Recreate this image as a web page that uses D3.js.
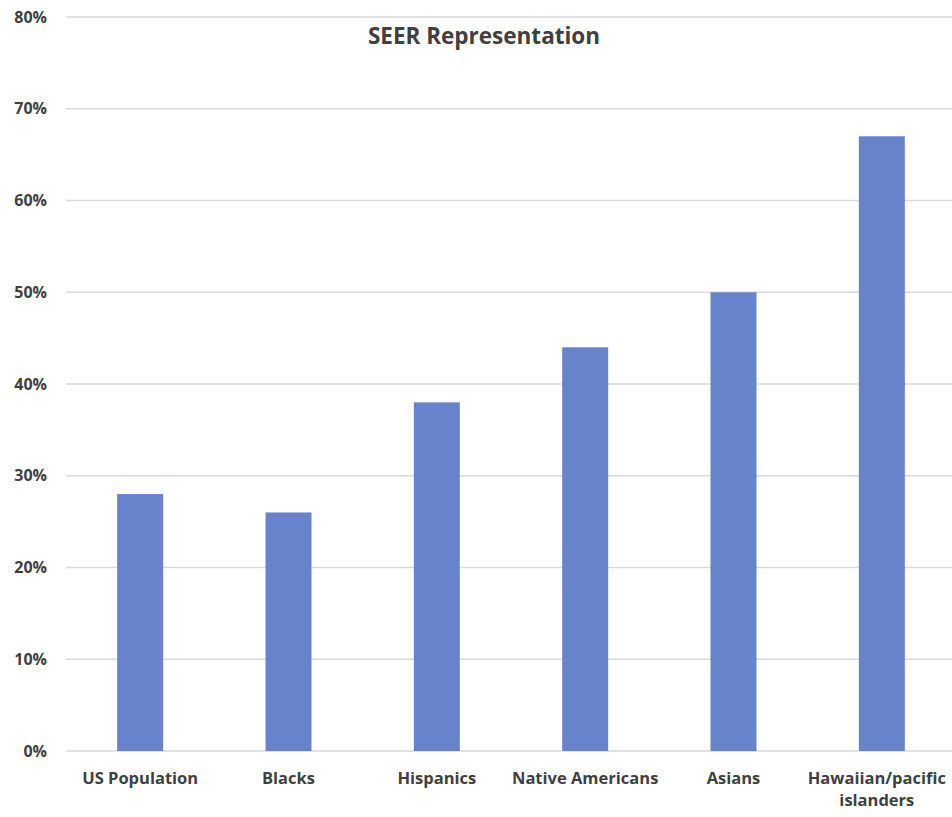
<!DOCTYPE html>
<html><head><meta charset="utf-8">
<script src="https://cdn.jsdelivr.net/npm/d3@7"></script>
<style>body{margin:0;background:#fff}svg{display:block}text{font-family:"Open Sans",sans-serif;font-weight:bold;fill:#404040}</style>
</head><body><div id="c"></div>
<script>
const categories = ["US Population","Blacks","Hispanics","Native Americans","Asians","Hawaiian/pacific islanders"];
const values = [0.28,0.26,0.38,0.44,0.50,0.67];
const yTicks = [0,0.1,0.2,0.3,0.4,0.5,0.6,0.7,0.8];
const title = "SEER Representation";

const W=952,H=817;
const svg=d3.select("#c").append("svg").attr("width",W).attr("height",H);
const x=d3.scaleBand().domain(categories).range([66,956]).paddingInner(0.69).paddingOuter(0.345);
const y=d3.scaleLinear().domain([0,0.8]).range([751,17]);

const grid=svg.append("g");
grid.selectAll("line").data(yTicks).join("line")
  .attr("x1",66).attr("x2",W).attr("y1",d=>y(d)).attr("y2",d=>y(d))
  .attr("stroke","#d9d9d9").attr("stroke-width",1.5);

const yAxis=svg.append("g").attr("transform","translate(66,0)")
  .call(d3.axisLeft(y).tickValues(yTicks).tickFormat(d3.format(".0%")).tickSize(0).tickPadding(19));
yAxis.select(".domain").remove();
yAxis.selectAll("text").style("font-size","16px").attr("fill","#404040");

svg.append("g").selectAll("rect").data(values).join("rect")
  .attr("x",(d,i)=>x(categories[i])).attr("width",x.bandwidth())
  .attr("y",d=>y(d)).attr("height",d=>y(0)-y(d)).attr("fill","#6683CB");

const xl=svg.append("g");
categories.forEach((c,i)=>{
  let cx=x(c)+x.bandwidth()/2;
  const t=xl.append("text").attr("x",cx).attr("y",784).attr("text-anchor","middle").style("font-size","16.5px");
  if(c==="Hawaiian/pacific islanders"){
    cx-=5;
    t.attr("x",cx);
    t.append("tspan").attr("x",cx).attr("dy",0).text("Hawaiian/pacific");
    t.append("tspan").attr("x",cx).attr("dy",22).text("islanders");
  } else t.text(c);
});

svg.append("text").attr("x",484).attr("y",44).attr("text-anchor","middle").style("font-size","22.5px").text(title);
</script></body></html>
